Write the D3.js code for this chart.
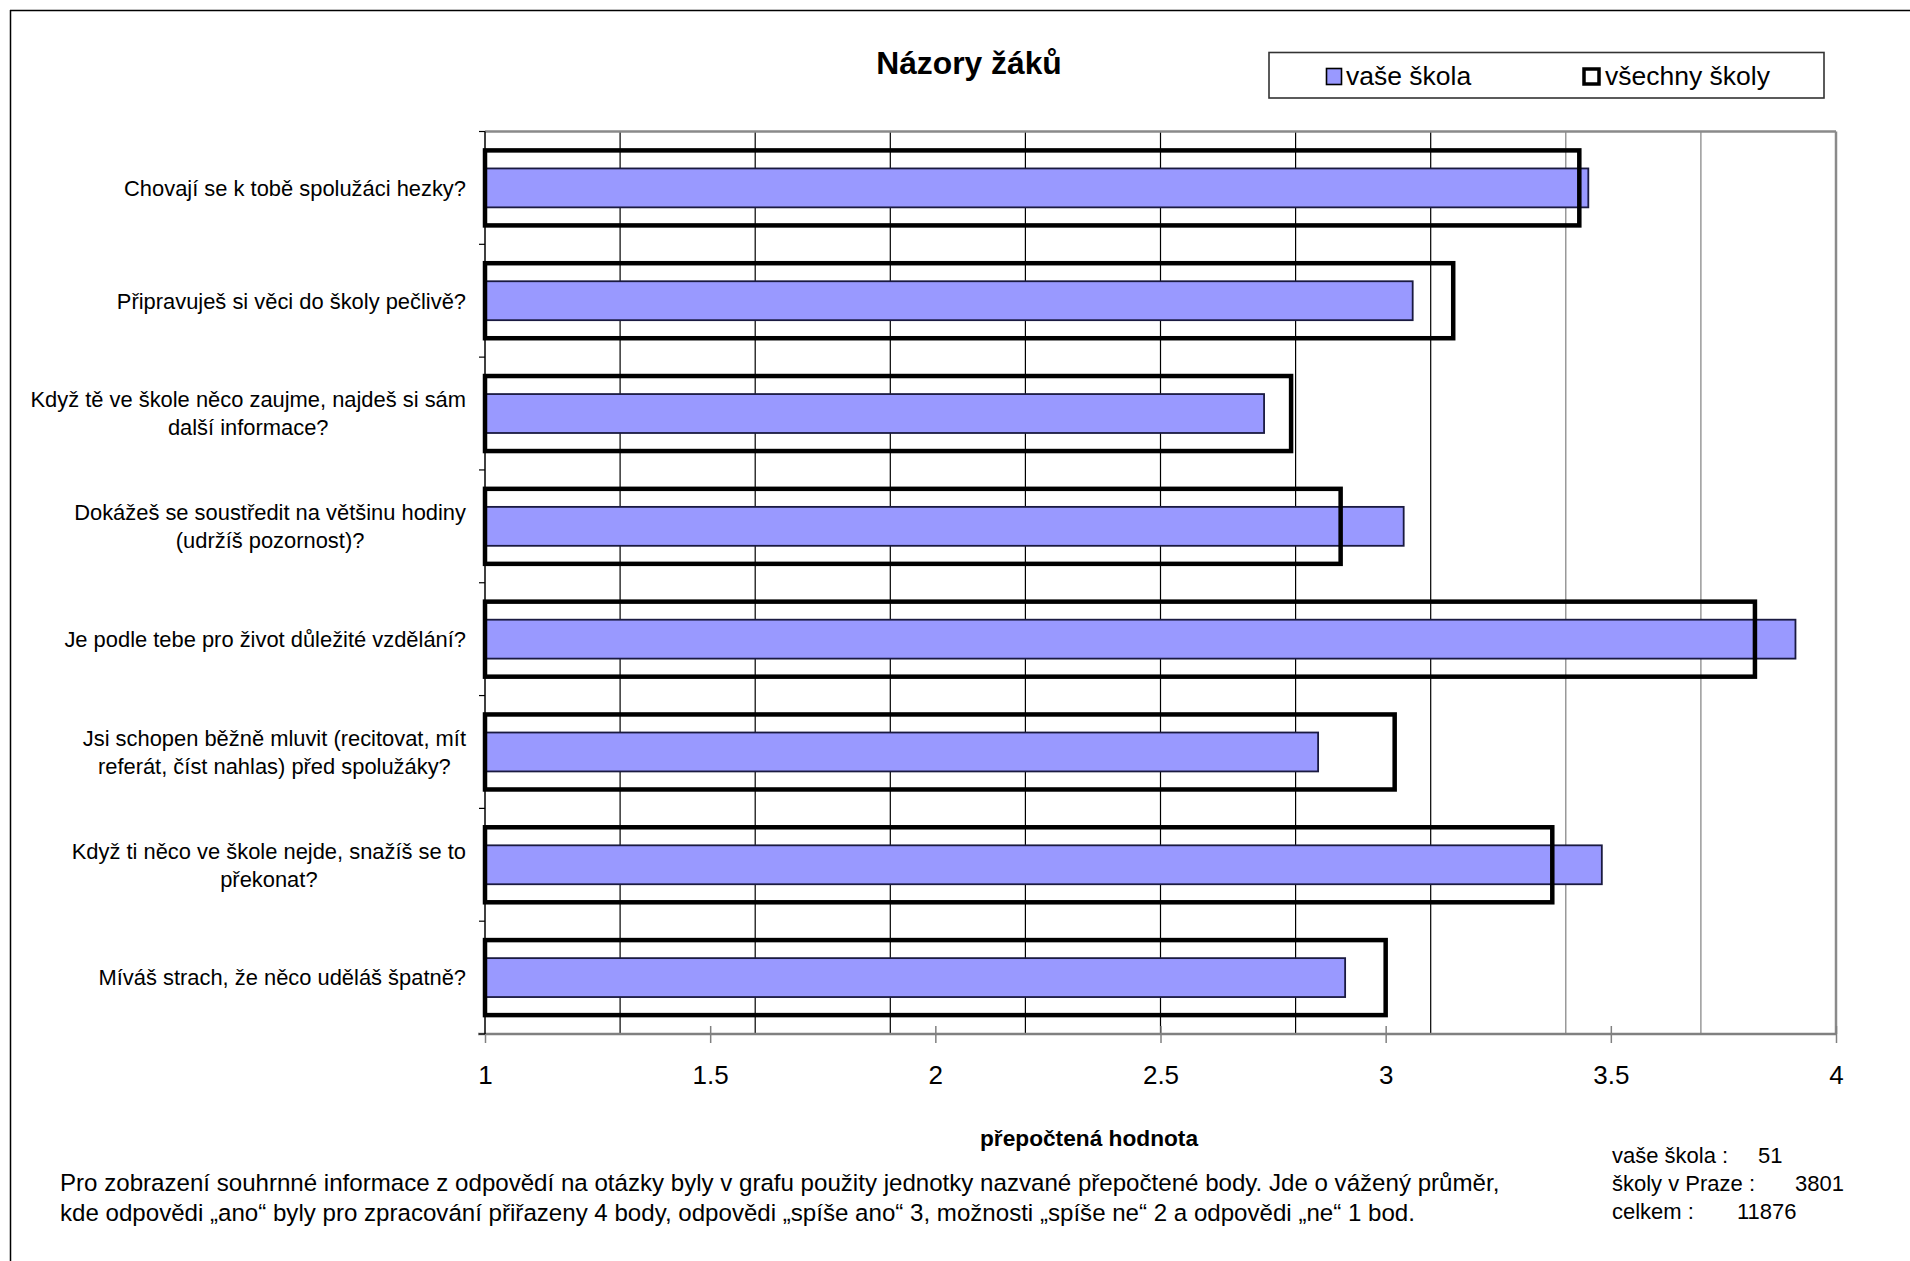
<!DOCTYPE html>
<html><head><meta charset="utf-8">
<script src="https://cdn.jsdelivr.net/npm/d3@7"></script>
<style>
html,body{margin:0;padding:0;background:#fff;}
svg{display:block;font-family:"Liberation Sans",Arial,Helvetica,sans-serif;}
</style></head>
<body>
<svg id="chart" width="1910" height="1261"></svg>
<script>
const categories = [
  ["Chovají se k tobě spolužáci hezky?"],
  ["Připravuješ si věci do školy pečlivě?"],
  ["Když tě ve škole něco zaujme, najdeš si sám", "další informace?"],
  ["Dokážeš se soustředit na většinu hodiny", "(udržíš pozornost)?"],
  ["Je podle tebe pro život důležité vzdělání?"],
  ["Jsi schopen běžně mluvit (recitovat, mít", "referát, číst nahlas) před spolužáky?"],
  ["Když ti něco ve škole nejde, snažíš se to", "překonat?"],
  ["Míváš strach, že něco uděláš špatně?"]
];
const vaseSkola = [3.45, 3.06, 2.73, 3.04, 3.91, 2.85, 3.48, 2.91];
const vsechnySkoly = [3.43, 3.15, 2.79, 2.90, 3.82, 3.02, 3.37, 3.00];
const tickValues = [1, 1.5, 2, 2.5, 3, 3.5, 4];
const gridValues = [1.3, 1.6, 1.9, 2.2, 2.5, 2.8, 3.1, 3.4, 3.7];
const seriesNames = ["vaše škola", "všechny školy"];
const title = "Názory žáků";
const axisTitle = "přepočtená hodnota";
const noteLines = [
  "Pro zobrazení souhrnné informace z odpovědí na otázky byly v grafu použity jednotky nazvané přepočtené body. Jde o vážený průměr,",
  "kde odpovědi „ano“ byly pro zpracování přiřazeny 4 body, odpovědi „spíše ano“ 3, možnosti „spíše ne“ 2 a odpovědi „ne“ 1 bod."
];
const statLabels = ["vaše škola :", "školy v Praze :", "celkem :"];
const statValues = ["51", "3801", "11876"];

const svg = d3.select("#chart");
const L = 485, R = 1836, T = 131.5, B = 1034;
const x = d3.scaleLinear().domain([1, 4]).range([L, R]);
const y = d3.scaleBand().domain(d3.range(categories.length)).range([T, B]);
const bw = y.bandwidth();
const outerH = bw * 0.665, innerH = bw * 0.345;

// outer frame (top & left)
svg.append("line").attr("x1", 10).attr("x2", 1910).attr("y1", 10.5).attr("y2", 10.5).attr("stroke", "#000").attr("stroke-width", 1.5);
svg.append("line").attr("x1", 10.5).attr("x2", 10.5).attr("y1", 10).attr("y2", 1261).attr("stroke", "#000").attr("stroke-width", 1.5);

// gridlines
svg.append("g").selectAll("line").data(gridValues).join("line")
  .attr("x1", d => x(d)).attr("x2", d => x(d)).attr("y1", T).attr("y2", B)
  .attr("stroke", d => d > 3.2 ? "#808080" : "#000").attr("stroke-width", 1.2);

// plot border top & right
svg.append("line").attr("x1", L).attr("x2", R).attr("y1", T).attr("y2", T).attr("stroke", "#8a8a8a").attr("stroke-width", 2.5);
svg.append("line").attr("x1", R).attr("x2", R).attr("y1", T).attr("y2", B).attr("stroke", "#8a8a8a").attr("stroke-width", 2.5);

// filled bars (vaše škola)
svg.append("g").selectAll("rect").data(vaseSkola).join("rect")
  .attr("x", x(1)).attr("y", (d, i) => y(i) + (bw - innerH) / 2)
  .attr("width", d => x(d) - x(1)).attr("height", innerH)
  .attr("fill", "#9999ff").attr("stroke", "#1a1a40").attr("stroke-width", 1.8);

// outline bars (všechny školy)
svg.append("g").selectAll("rect").data(vsechnySkoly).join("rect")
  .attr("x", x(1)).attr("y", (d, i) => y(i) + (bw - outerH) / 2)
  .attr("width", d => x(d) - x(1)).attr("height", outerH)
  .attr("fill", "none").attr("stroke", "#000").attr("stroke-width", 4.5);

// bottom axis
const xAxis = svg.append("g").attr("transform", `translate(0,${B})`)
  .call(d3.axisBottom(x).tickValues(tickValues).tickSize(0).tickPadding(0).tickFormat(d3.format("")));
xAxis.select(".domain").remove();
xAxis.selectAll(".tick text").attr("y", 50).attr("dy", null)
  .attr("font-size", 26).attr("fill", "#000").attr("font-family", "Liberation Sans, Arial, sans-serif");
xAxis.selectAll(".tick").append("line").attr("y1", d => d === 1 ? 0 : -8).attr("y2", 9)
  .attr("stroke", "#808080").attr("stroke-width", 1.5);
svg.append("line").attr("x1", L - 7).attr("x2", R).attr("y1", B).attr("y2", B).attr("stroke", "#808080").attr("stroke-width", 2.5);

// left axis
svg.append("line").attr("x1", L).attr("x2", L).attr("y1", T).attr("y2", B).attr("stroke", "#000").attr("stroke-width", 1.5);
svg.append("g").selectAll("line").data(d3.range(categories.length + 1)).join("line")
  .attr("x1", L - 6).attr("x2", L)
  .attr("y1", i => T + i * bw).attr("y2", i => T + i * bw)
  .attr("stroke", "#000").attr("stroke-width", 1.2);

// category labels
const labG = svg.append("g").attr("font-size", 21.9).attr("fill", "#000");
categories.forEach((lines, i) => {
  const cy = y(i) + bw / 2;
  const g = labG.append("g");
  const lh = 28;
  const texts = lines.map((t, k) => g.append("text")
    .attr("y", cy + (k - (lines.length - 1) / 2) * lh)
    .attr("dy", "0.36em").attr("text-anchor", "middle").text(t));
  const maxW = d3.max(texts, t => t.node().getComputedTextLength());
  texts.forEach(t => t.attr("x", 466 - maxW / 2));
});

// title
svg.append("text").attr("x", 969).attr("y", 74).attr("text-anchor", "middle")
  .attr("font-size", 31.8).attr("font-weight", "bold").text(title);

// legend
svg.append("rect").attr("x", 1269).attr("y", 52.5).attr("width", 555).attr("height", 45.5)
  .attr("fill", "#fff").attr("stroke", "#333").attr("stroke-width", 1.6);
svg.append("rect").attr("x", 1326.5).attr("y", 68.5).attr("width", 15).attr("height", 16)
  .attr("fill", "#9999ff").attr("stroke", "#000").attr("stroke-width", 1.6);
svg.append("rect").attr("x", 1584).attr("y", 69).attr("width", 15).attr("height", 15)
  .attr("fill", "#fff").attr("stroke", "#000").attr("stroke-width", 3.5);
svg.append("text").attr("x", 1346).attr("y", 85).attr("font-size", 26.5).text(seriesNames[0]);
svg.append("text").attr("x", 1605).attr("y", 85).attr("font-size", 26.5).text(seriesNames[1]);

// axis title
svg.append("text").attr("x", 1089).attr("y", 1146).attr("text-anchor", "middle")
  .attr("font-size", 22.7).attr("font-weight", "bold").text(axisTitle);

// note
svg.append("g").selectAll("text").data(noteLines).join("text")
  .attr("x", 60).attr("y", (d, i) => 1191 + i * 30).attr("font-size", 24.1).text(d => d);

// stats
const statLabelX = 1612;
const statValueX = [1758, 1795, 1737];
svg.append("g").selectAll("text").data(statLabels).join("text")
  .attr("x", statLabelX).attr("y", (d, i) => 1162.5 + i * 28).attr("font-size", 22).text(d => d);
svg.append("g").selectAll("text").data(statValues).join("text")
  .attr("x", (d, i) => statValueX[i]).attr("y", (d, i) => 1162.5 + i * 28).attr("font-size", 22).text(d => d);
</script>
</body></html>
